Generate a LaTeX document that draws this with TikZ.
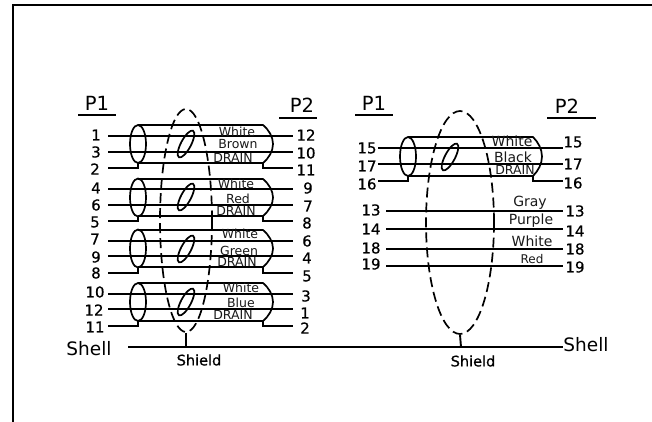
\documentclass[tikz,border=0pt]{standalone}
\usepackage{fontspec}
\setmainfont{DejaVu Sans}
\newfontfamily\heavyfont[FakeBold=0.6]{DejaVu Sans}
\usetikzlibrary{shapes.geometric}
\tikzset{
	numlabel/.style={font=\heavyfont\fontsize{15}{15}\selectfont,inner sep=0pt,anchor=center},
	hdlabel/.style={font=\fontsize{19.5}{20}\selectfont,inner sep=0pt},
	wirelabel/.style={font=\fontsize{12.5}{13}\selectfont,inner sep=0pt,text=black!90},
	wire/.style={line width=1.9pt},
	cable/.style={line width=1.7pt},
	shieldloop/.style={shape=ellipse,draw,line width=1.7pt,dash pattern=on 10pt off 5pt,inner sep=0pt},
}
\begin{document}
\begin{tikzpicture}[x=1pt,y=-1pt]
	\useasboundingbox (0,0) rectangle (652,422);
	%FRAME
	\draw[line width=2.2pt] (13,422)--(13,5)--(652,5);

	%HEADERS
	\node[hdlabel] (hdP1a) at (97,103) {P1};
	\node[hdlabel] (hdP2a) at (302,105) {P2};
	\node[hdlabel] (hdP1b) at (374,103) {P1};
	\node[hdlabel] (hdP2b) at (567,106) {P2};
	\draw[wire] (78,115)--(116,115);
	\draw[wire] (279,118)--(317,118);
	\draw[wire] (355,115)--(393,115);
	\draw[wire] (547,118)--(596,118);

	%SHIELD LOOPS
	\node[shieldloop,minimum width=52pt,minimum height=223pt] (loopA) at (186,220.5) {};
	\node[shieldloop,minimum width=68pt,minimum height=223pt] (loopB) at (460,222.5) {};

	%CABLES LEFT
	\foreach \t/\m/\b/\s in {125/144/163/144,179/197.5/216/197,230/248.5/267/249,283/302/321/302}{
	\draw[cable] (138,\m) ellipse [x radius=8,y radius=19];
	\draw[cable] (138,\t)--(263,\t) .. controls (269,\t+5) and (273,\t+12) .. (273,\m) .. controls (273,\b-12) and (269,\b-5) .. (263,\b)--(138,\b);
	\draw[cable] (186,\s) ellipse [x radius=15,y radius=5,rotate=62];
		} %end foreach

	%CABLE RIGHT
	\draw[cable] (408,156.5) ellipse [x radius=8,y radius=19.5];
	\draw[cable] (408,137)--(533,137) .. controls (538,142) and (542,149) .. (542,156.5) .. controls (542,164) and (538,171) .. (533,176)--(408,176);
	\draw[cable] (450,157) ellipse [x radius=15,y radius=5,rotate=62];

	%WIRES: left no, x, y, right no, x, y, wire start, wire end, wire y
	\foreach \a/\ax/\ay/\c/\cx/\cy/\ws/\we/\wy in {
		1/96/135/12/306/135/108/293/136, 3/96/152/10/306/153/108/293/152,
		4/96/188/9/308/188/108/293/189, 6/96/205/7/308/206/108/293/205,
		7/95/239/6/307/241/108/293/241, 9/96/257/4/307/258/108/293/256,
		10/95/292/3/306/296/108/293/294, 12/94/310/1/305/313/108/293/309,
		15/367/148/15/573/142/378/563/148, 17/367/166/17/573/164/378/563/164,
		13/371/210/13/575/211/386/563/211, 14/371/229/14/575/231/386/563/229,
		18/371/248/18/575/249/386/563/249, 19/371/264/19/575/267/386/563/266}{
	\node[numlabel,minimum width={2*(\ws-\ax)}] (l\a) at (\ax,\ay) {\a};
	\node[numlabel,minimum width={2*(\cx-\we)}] (r\c) at (\cx,\cy) {\c};
	\draw[wire] (l\a.east |- 0,\wy)--(r\c.west |- 0,\wy);
		} %end foreach

	%DRAIN WIRES: left no, x, y, right no, x, y, wire start, wire end, cable start, cable end, bottom, wire y
	\foreach \a/\ax/\ay/\c/\cx/\cy/\ws/\we/\ca/\cb/\b/\wy in {
		2/95/169/11/306/170/108/293/138/263/163/168,
		5/95/222/8/307/223/108/293/138/263/216/221,
		8/96/273/5/307/276/108/293/138/263/267/273,
		11/95/327/2/305/328/108/293/138/263/321/326,
		16/367/184/16/573/183/378/563/408/533/176/181}{
	\node[numlabel,minimum width={2*(\ws-\ax)}] (l\a) at (\ax,\ay) {\a};
	\node[numlabel,minimum width={2*(\cx-\we)}] (r\c) at (\cx,\cy) {\c};
	\draw[wire] (l\a.east |- 0,\wy)--(\ca,\wy)--(\ca,\b);
	\draw[wire] (r\c.west |- 0,\wy)--(\cb,\wy)--(\cb,\b);
		} %end foreach

	%COLOURS & DRAIN LABELS
	\foreach \i/\x/\y/\s in {cA/237/132/White,cB/238/144/Brown,cC/233/158/DRAIN,cD/236/184/White,cE/238/199/Red,cF/236/211/DRAIN,cG/240/234/White,cH/239/251/Green,cI/237/262/DRAIN,cJ/241/288/White,cK/241/303/Blue,cL/233/315/DRAIN,cM/515/170/DRAIN}{
	\node[wirelabel] (\i) at (\x,\y) {\s};
		} %end foreach
	\foreach \i/\x/\y/\s in {cN/512/141/White,cO/513/157/Black,cP/530/203/Gray,cQ/531/221/Purple,cR/532/241/White}{
	\node[wirelabel,font=\fontsize{14}{14}\selectfont] (\i) at (\x,\y) {\s};
		} %end foreach
	\node[wirelabel,font=\fontsize{12}{12}\selectfont] (cS) at (532,259) {Red};

	%SHELL
	\node[hdlabel,font=\fontsize{18.5}{19}\selectfont,minimum width=78pt] (shellL) at (89,349) {Shell};
	\node[hdlabel,font=\fontsize{18.5}{19}\selectfont] (shellR) at (586,345) {Shell};
	\coordinate (gndA) at (186,347);
	\coordinate (gndB) at (461,347);
	\draw[wire] (shellL.east |- gndA)--(shellR.west |- gndA);
	\draw[wire] (loopA.south)--(gndA);
	\draw[wire] (loopB.south)--(gndB);
	\node[numlabel,font=\heavyfont\fontsize{14.5}{15}\selectfont] (shieldA) at (199,360) {Shield};
	\node[numlabel,font=\heavyfont\fontsize{14.5}{15}\selectfont] (shieldB) at (473,361) {Shield};
	
	%\draw[help lines] (0,0) grid (652,422);
\end{tikzpicture}
\end{document}
